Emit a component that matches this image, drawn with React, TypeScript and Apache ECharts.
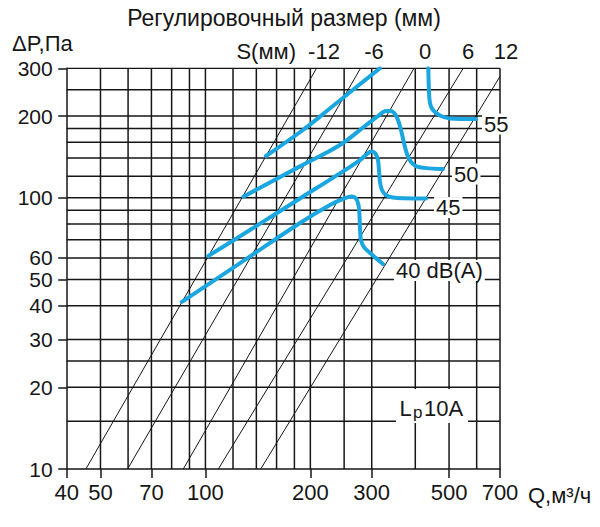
import React, { useEffect, useRef } from "react";
import * as echarts from "echarts";

// ---- grid / axis values (Q in m3/h, dP in Pa) ----
const xMin = 40;
const xMax = 700;
const yMin = 10;
const yMax = 300;
const xGridValues = [50, 60, 70, 80, 90, 100, 120, 140, 160, 180, 200, 250, 300, 400, 500, 600, 700];
const yGridValues = [15, 20, 25, 30, 40, 50, 60, 70, 80, 90, 100, 120, 140, 160, 180, 200, 250, 300];
const xTickLabels = [40, 50, 70, 100, 200, 300, 500, 700];
const yTickLabels = [10, 20, 30, 40, 50, 60, 100, 200, 300];
const sLabels = ["-12", "-6", "0", "6", "12"];

// ---- regulation lines S (mm) ----
const regLineMinus12 = [[45.4, 10], [208.3, 300]];
const regLineMinus6 = [[59.8, 10], [278.6, 300]];
const regLine0 = [[86.4, 10], [396.6, 300]];
const regLinePlus6 = [[108.9, 10], [549, 300]];
const regLinePlus12 = [[144.1, 10], [700, 280]];

// ---- noise curves Lp10A dB(A) ----
const noise40 = [
  [85.6, 41.3], [125.7, 57.4], [186.8, 80.7], [227.6, 94.0], [251.4, 99.7], [263.3, 101],
  [270.4, 99.3], [274.9, 94], [276.7, 86.3], [277.6, 77.3], [279.4, 69.8], [285, 65.8],
  [294.6, 63.1], [308.5, 59.9], [323.1, 57.0],
];
const noise45 = [
  [101.9, 61.0], [134.2, 76.0], [186.8, 99.4], [243.2, 123.0], [277.6, 137.7], [290.7, 144.9],
  [299.5, 148], [307.5, 145.5], [312.6, 137.7], [314.7, 126.5], [316.8, 114.3], [321.0, 106.8],
  [329.6, 102.3], [345.2, 100.2], [373.7, 99.5], [429.3, 99.3],
];
const noise50 = [
  [128.4, 100.9], [186.8, 130.5], [243.2, 156.4], [286.9, 183.8], [312.6, 200], [329.6, 208.7],
  [340.7, 208.7], [349.8, 203.4], [356.8, 193.4], [364, 177.7], [371.3, 159.1], [378.7, 144.9],
  [388.8, 135.4], [404.5, 130.3], [440.8, 128.3], [480.4, 127.6],
];
const noise55Left = [[149.2, 142.5], [190.5, 177.7], [224.7, 210.5], [266.8, 251.6], [316.8, 300]];
const noise55Right = [
  [436, 300], [437.8, 249.5], [440.8, 223.4], [449.6, 210.5], [470.8, 200.9], [503.2, 195.9], [597.3, 195],
];

const FONT = '"Liberation Sans", Arial, Helvetica, sans-serif';
const INK = "#161616";
const BLUE = "#1aa6e0";
const FS = 22;

const L = (v: number) => Math.log10(v);
const lg = (d: number[][]) => d.map(([q, p]) => [L(q), L(p)]);
const logs = (a: number[]) => a.map((v) => L(v));
const fmt = (v: number) => String(Math.round(Math.pow(10, v)));

const plain = (data: number[][], width: number, z: number) => ({
  type: "line",
  data,
  symbol: "none",
  showSymbol: false,
  silent: true,
  z,
  lineStyle: { color: INK, width },
  emphasis: { disabled: true },
});

const gridSeries = [
  ...xGridValues.map((v) => plain([[L(v), L(yMin)], [L(v), L(yMax)]], 1.5, 1)),
  ...yGridValues.map((v) => plain([[L(xMin), L(v)], [L(xMax), L(v)]], 1.5, 1)),
];

const regSeries = (data: number[][]) => plain(lg(data), 1, 3);

const curveSeries = (data: number[][], label?: string, offset?: number[]) => ({
  type: "line",
  data: lg(data),
  smooth: 0.35,
  symbol: "none",
  showSymbol: false,
  silent: true,
  z: 4,
  lineStyle: { color: BLUE, width: 4, cap: "round", join: "round" },
  emphasis: { disabled: true },
  endLabel: label
    ? {
        show: true,
        formatter: label,
        distance: 0,
        offset,
        color: INK,
        fontSize: FS,
        fontFamily: FONT,
        lineHeight: 20,
        backgroundColor: "#fff",
        padding: [1, 2, 0, 2],
      }
    : { show: false },
});

const txt = (text: string, x: number, y: number, align = "left", size = FS) => ({
  type: "text",
  x,
  y,
  z: 100,
  silent: true,
  style: {
    text,
    fill: INK,
    font: `${size}px ${FONT}`,
    fontSize: size,
    fontFamily: FONT,
    align,
    textAlign: align,
    verticalAlign: "middle",
    textVerticalAlign: "middle",
  },
});

const sPositions = [324, 374, 425, 468, 506];

const option = {
  animation: false,
  backgroundColor: "#fff",
  grid: { left: 66.7, right: 100, top: 68.3, bottom: 58, containLabel: false, outerBoundsMode: "none" },
  xAxis: {
    type: "value",
    min: L(xMin),
    max: L(xMax),
    z: 5,
    axisLine: { show: true, onZero: false, lineStyle: { color: INK, width: 1.5 } },
    axisTick: { show: true, length: 9, customValues: logs(xTickLabels), lineStyle: { color: INK, width: 1.5 } },
    axisLabel: {
      customValues: logs(xTickLabels),
      formatter: fmt,
      margin: 14,
      color: INK,
      fontSize: FS,
      fontFamily: FONT,
      lineHeight: 18,
    },
    splitLine: { show: false },
  },
  yAxis: {
    type: "value",
    min: L(yMin),
    max: L(yMax),
    z: 5,
    axisLine: { show: true, onZero: false, lineStyle: { color: INK, width: 1.5 } },
    axisTick: { show: true, length: 8.5, customValues: logs(yTickLabels), lineStyle: { color: INK, width: 1.5 } },
    axisLabel: {
      customValues: logs(yTickLabels),
      formatter: fmt,
      margin: 14,
      color: INK,
      fontSize: 21,
      fontFamily: FONT,
      lineHeight: 18,
    },
    splitLine: { show: false },
  },
  graphic: [
    txt("Регулировочный размер (мм)", 284, 18, "center", 23),
    txt("ΔP,Па", 12, 43, "left"),
    txt("S(мм)", 296, 51, "right"),
    ...sLabels.map((s, i) => txt(s, sPositions[i], 51, "center")),
    txt("Q,м³/ч", 528, 495, "left"),
    {
      type: "rect",
      z: 99,
      silent: true,
      shape: { x: 396, y: 389, width: 72, height: 34 },
      style: { fill: "#fff" },
    },
    txt("L", 399.5, 408, "left"),
    txt("p", 413, 412, "left", 17),
    txt("10A", 424, 408, "left"),
  ],
  series: [
    ...gridSeries,
    regSeries(regLineMinus12),
    regSeries(regLineMinus6),
    regSeries(regLine0),
    regSeries(regLinePlus6),
    regSeries(regLinePlus12),
    curveSeries(noise40, "40 dB(A)", [11, 6.5]),
    curveSeries(noise45, "45", [8, 9]),
    curveSeries(noise50, "50", [9, 5]),
    curveSeries(noise55Left),
    curveSeries(noise55Right, "55", [6, 5]),
  ],
};

export default function App() {
  const ref = useRef<HTMLDivElement>(null);
  useEffect(() => {
    if (!ref.current) return;
    const chart = echarts.init(ref.current, undefined, { renderer: "svg" });
    chart.setOption(option as any);
    return () => chart.dispose();
  }, []);
  return (
    <div
      ref={ref}
      style={{ position: "fixed", left: 0, top: 0, width: 600, height: 527, background: "#fff" }}
    />
  );
}
